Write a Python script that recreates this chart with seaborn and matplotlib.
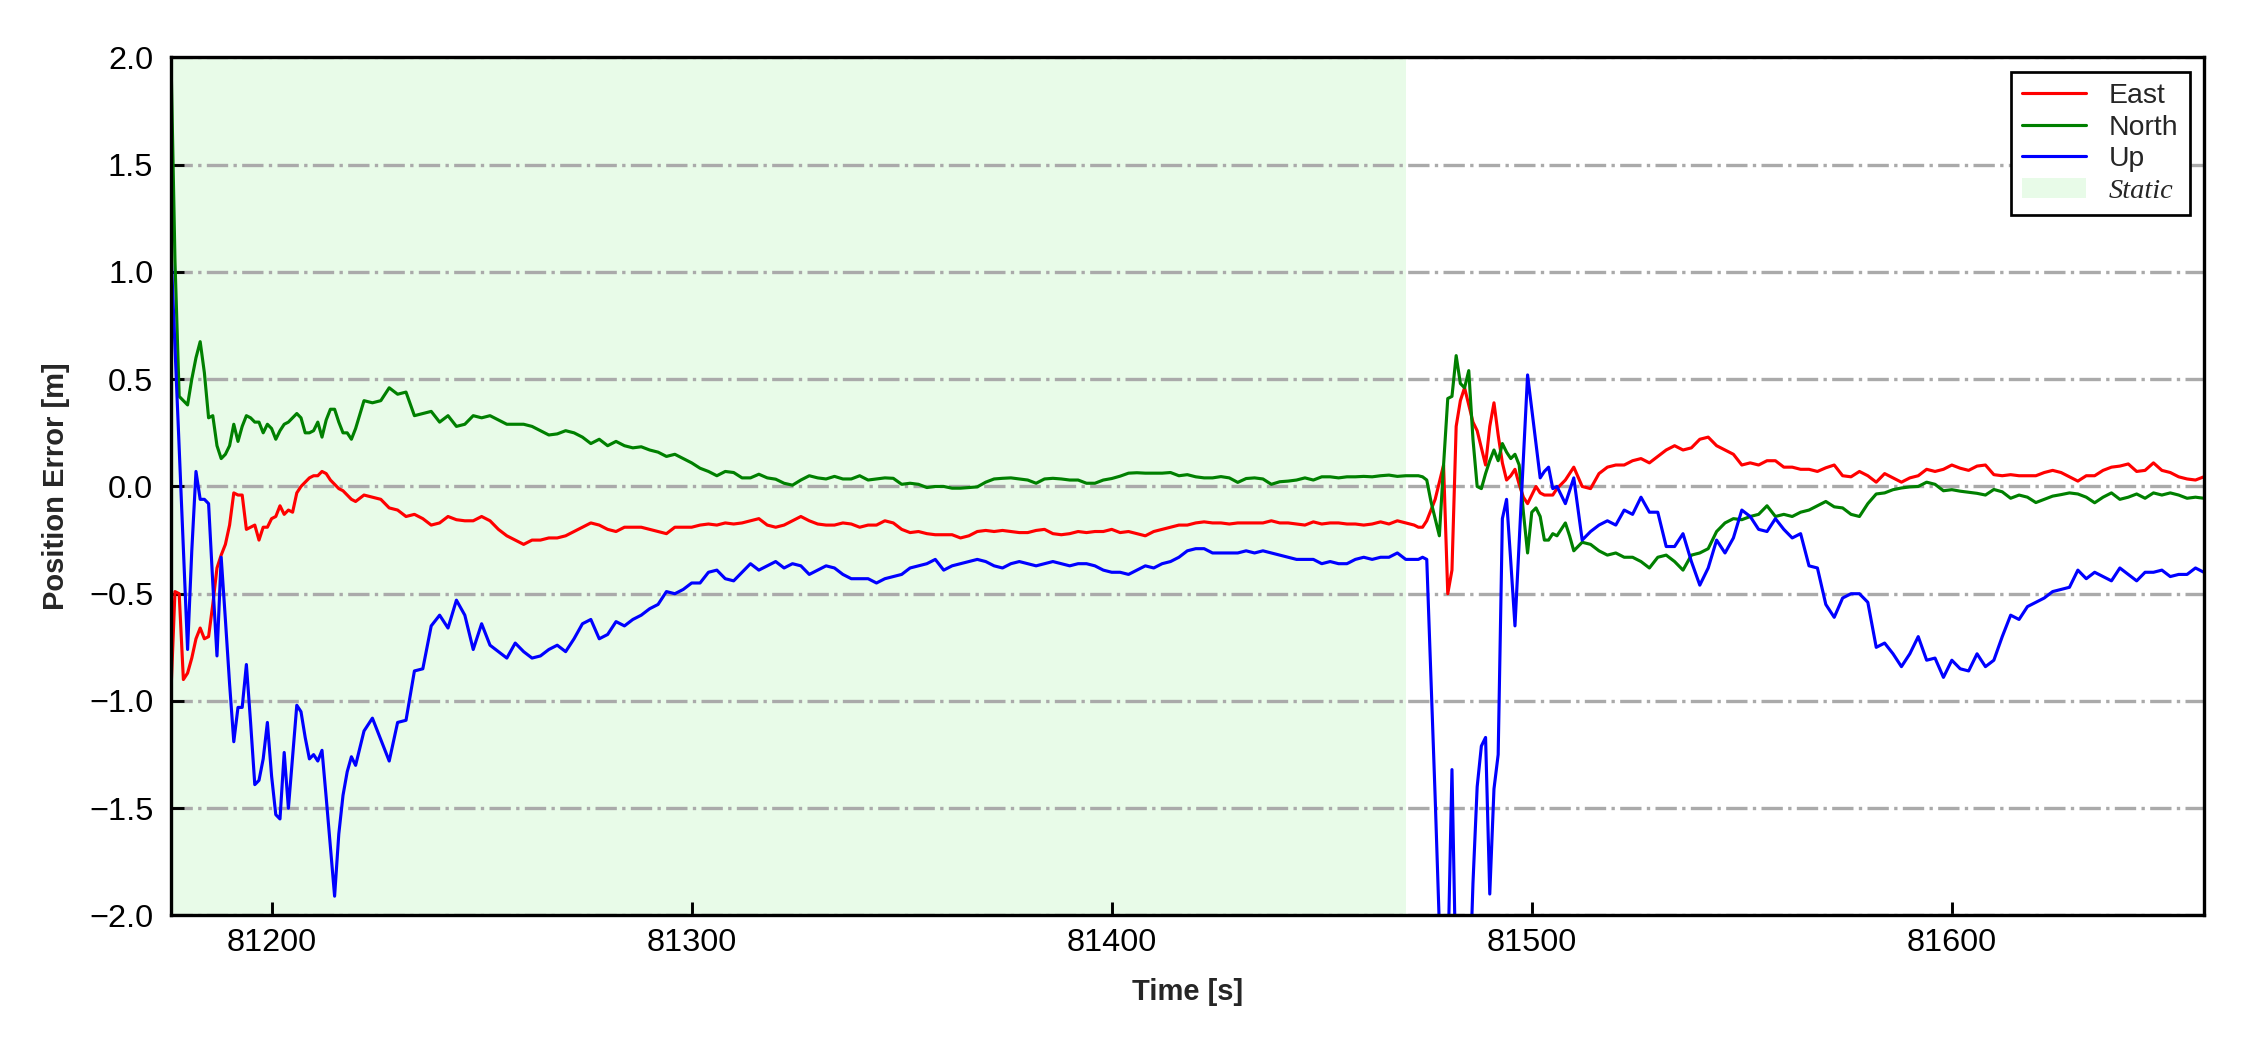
import numpy as np
import pandas as pd
import matplotlib
matplotlib.use("Agg")
import matplotlib.pyplot as plt
from matplotlib.lines import Line2D
import seaborn as sns

# sample times: 1 s steps around the fast transients, 2 s elsewhere
time_s = np.concatenate([
    np.arange(81176, 81221, 1),
    np.arange(81222, 81473, 2),
    np.arange(81473, 81511, 1),
    np.arange(81512, 81661, 2),
])

# East error [m]
east = [
    # 81176-81220 (1 s)
    -0.98, -0.49, -0.50, -0.90, -0.87, -0.80, -0.71, -0.66, -0.71, -0.70,
    -0.55, -0.38, -0.32, -0.27, -0.18, -0.03, -0.04, -0.04, -0.20, -0.19,
    -0.18, -0.25, -0.19, -0.19, -0.15, -0.14, -0.09, -0.13, -0.11, -0.12,
    -0.03, 0.00, 0.02, 0.04, 0.05, 0.05, 0.07, 0.06, 0.03, 0.01,
    -0.01, -0.02, -0.04, -0.06, -0.07,
    # 81222-81472 (2 s)
    -0.04, -0.05, -0.06, -0.10, -0.11, -0.14, -0.13, -0.15, -0.18, -0.17,
    -0.14, -0.155, -0.16, -0.16, -0.14, -0.16, -0.20, -0.23, -0.25, -0.27,
    -0.25, -0.25, -0.24, -0.24, -0.23, -0.21, -0.19, -0.17, -0.18, -0.20,
    -0.21, -0.19, -0.19, -0.19, -0.20, -0.21, -0.22, -0.19, -0.19, -0.19,
    -0.18, -0.175, -0.18, -0.17, -0.175, -0.17, -0.16, -0.15, -0.18, -0.19,
    -0.18, -0.16, -0.14, -0.16, -0.175, -0.18, -0.18, -0.17, -0.175, -0.19,
    -0.18, -0.18, -0.16, -0.17, -0.20, -0.215, -0.21, -0.22, -0.225, -0.225,
    -0.225, -0.24, -0.23, -0.21, -0.205, -0.21, -0.205, -0.21, -0.215, -0.215,
    -0.205, -0.20, -0.22, -0.225, -0.22, -0.21, -0.215, -0.21, -0.21, -0.20,
    -0.215, -0.21, -0.22, -0.23, -0.21, -0.20, -0.19, -0.18, -0.18, -0.17,
    -0.165, -0.17, -0.17, -0.175, -0.17, -0.17, -0.17, -0.17, -0.16, -0.17,
    -0.17, -0.175, -0.18, -0.165, -0.175, -0.17, -0.17, -0.175, -0.175, -0.18,
    -0.175, -0.165, -0.175, -0.16, -0.17, -0.18,
    # 81473-81510 (1 s)
    -0.19, -0.19, -0.16, -0.11, -0.06, 0.02, 0.10, -0.50, -0.39, 0.28,
    0.40, 0.46, 0.38, 0.30, 0.26, 0.18, 0.10, 0.28, 0.39, 0.24,
    0.11, 0.03, 0.05, 0.08, 0.01, -0.05, -0.08, -0.04, 0.00, -0.03,
    -0.04, -0.04, -0.04, -0.01, 0.01, 0.03, 0.06, 0.09,
    # 81512-81660 (2 s)
    0.00, -0.01, 0.06, 0.09, 0.10, 0.10, 0.12, 0.13, 0.11, 0.14,
    0.17, 0.19, 0.17, 0.18, 0.22, 0.23, 0.19, 0.17, 0.15, 0.10,
    0.11, 0.10, 0.12, 0.12, 0.09, 0.09, 0.08, 0.08, 0.07, 0.087,
    0.10, 0.05, 0.045, 0.07, 0.05, 0.02, 0.06, 0.04, 0.02, 0.04,
    0.05, 0.08, 0.07, 0.08, 0.10, 0.085, 0.075, 0.095, 0.10, 0.055,
    0.05, 0.055, 0.05, 0.05, 0.05, 0.065, 0.075, 0.065, 0.045, 0.025,
    0.05, 0.05, 0.075, 0.09, 0.095, 0.105, 0.07, 0.075, 0.11, 0.075,
    0.065, 0.045, 0.035, 0.03, 0.045,
]

# North error [m]
north = [
    2.05, 1.05, 0.42, 0.40, 0.38, 0.50, 0.60, 0.675, 0.53, 0.32,
    0.33, 0.19, 0.13, 0.15, 0.19, 0.29, 0.21, 0.28, 0.33, 0.32,
    0.30, 0.30, 0.25, 0.29, 0.27, 0.22, 0.26, 0.29, 0.30, 0.32,
    0.34, 0.32, 0.25, 0.25, 0.26, 0.30, 0.23, 0.31, 0.36, 0.36,
    0.30, 0.25, 0.25, 0.22, 0.27,
    0.40, 0.39, 0.40, 0.46, 0.43, 0.44, 0.33, 0.34, 0.35, 0.30,
    0.33, 0.28, 0.29, 0.33, 0.32, 0.33, 0.31, 0.29, 0.29, 0.29,
    0.28, 0.26, 0.24, 0.245, 0.26, 0.25, 0.23, 0.20, 0.22, 0.19,
    0.21, 0.19, 0.18, 0.185, 0.17, 0.16, 0.14, 0.15, 0.13, 0.11,
    0.085, 0.07, 0.05, 0.07, 0.065, 0.04, 0.04, 0.057, 0.04, 0.034,
    0.015, 0.006, 0.03, 0.05, 0.04, 0.035, 0.047, 0.035, 0.035, 0.05,
    0.03, 0.035, 0.04, 0.038, 0.01, 0.015, 0.01, -0.005, 0.0, 0.0,
    -0.008, -0.008, -0.005, -0.002, 0.02, 0.035, 0.038, 0.04, 0.035, 0.03,
    0.015, 0.035, 0.038, 0.035, 0.03, 0.03, 0.015, 0.015, 0.03, 0.037,
    0.048, 0.062, 0.064, 0.062, 0.062, 0.062, 0.065, 0.05, 0.055, 0.045,
    0.04, 0.04, 0.046, 0.04, 0.019, 0.037, 0.04, 0.035, 0.01, 0.022,
    0.025, 0.03, 0.04, 0.03, 0.045, 0.045, 0.04, 0.045, 0.045, 0.047,
    0.045, 0.05, 0.053, 0.047, 0.05, 0.05,
    0.05, 0.045, 0.03, -0.07, -0.15, -0.23, 0.10, 0.41, 0.42, 0.61,
    0.48, 0.46, 0.54, 0.22, 0.00, -0.01, 0.06, 0.12, 0.17, 0.12,
    0.20, 0.16, 0.13, 0.15, 0.10, -0.12, -0.31, -0.12, -0.10, -0.14,
    -0.25, -0.25, -0.22, -0.23, -0.20, -0.17, -0.23, -0.30,
    -0.26, -0.27, -0.30, -0.32, -0.31, -0.33, -0.33, -0.35, -0.38, -0.33,
    -0.32, -0.35, -0.39, -0.32, -0.31, -0.29, -0.21, -0.17, -0.15, -0.155,
    -0.14, -0.13, -0.09, -0.14, -0.13, -0.14, -0.12, -0.11, -0.09, -0.07,
    -0.095, -0.10, -0.13, -0.14, -0.08, -0.035, -0.03, -0.015, -0.007, -0.002,
    0.00, 0.02, 0.01, -0.02, -0.015, -0.022, -0.027, -0.032, -0.04, -0.014,
    -0.025, -0.055, -0.04, -0.05, -0.075, -0.06, -0.045, -0.038, -0.03, -0.035,
    -0.05, -0.076, -0.05, -0.03, -0.06, -0.05, -0.035, -0.055, -0.03, -0.04,
    -0.03, -0.04, -0.055, -0.05, -0.055,
]

# Up error [m]
up = [
    1.12, 0.65, 0.18, -0.29, -0.76, -0.30, 0.07, -0.06, -0.06, -0.08,
    -0.45, -0.79, -0.33, -0.62, -0.92, -1.19, -1.03, -1.03, -0.83, -1.10,
    -1.39, -1.37, -1.27, -1.10, -1.35, -1.53, -1.55, -1.24, -1.50, -1.26,
    -1.02, -1.05, -1.17, -1.27, -1.25, -1.28, -1.23, -1.45, -1.68, -1.91,
    -1.62, -1.44, -1.33, -1.26, -1.30,
    -1.14, -1.08, -1.18, -1.28, -1.10, -1.09, -0.86, -0.85, -0.65, -0.60,
    -0.66, -0.53, -0.60, -0.76, -0.64, -0.74, -0.77, -0.80, -0.73, -0.77,
    -0.80, -0.79, -0.76, -0.74, -0.77, -0.71, -0.64, -0.62, -0.71, -0.69,
    -0.63, -0.65, -0.62, -0.60, -0.57, -0.55, -0.49, -0.50, -0.48, -0.45,
    -0.45, -0.40, -0.39, -0.43, -0.44, -0.40, -0.36, -0.39, -0.37, -0.35,
    -0.38, -0.36, -0.37, -0.41, -0.39, -0.37, -0.38, -0.41, -0.43, -0.43,
    -0.43, -0.45, -0.43, -0.42, -0.41, -0.38, -0.37, -0.36, -0.34, -0.39,
    -0.37, -0.36, -0.35, -0.34, -0.35, -0.37, -0.38, -0.36, -0.35, -0.36,
    -0.37, -0.36, -0.35, -0.36, -0.37, -0.36, -0.36, -0.37, -0.39, -0.40,
    -0.40, -0.41, -0.39, -0.37, -0.38, -0.36, -0.35, -0.33, -0.30, -0.29,
    -0.29, -0.31, -0.31, -0.31, -0.31, -0.30, -0.31, -0.30, -0.31, -0.32,
    -0.33, -0.34, -0.34, -0.34, -0.36, -0.35, -0.36, -0.36, -0.34, -0.33,
    -0.34, -0.33, -0.33, -0.31, -0.34, -0.34,
    -0.34, -0.33, -0.34, -0.90, -1.45, -2.05, -2.45, -2.25, -1.32, -2.35,
    -2.60, -2.60, -2.45, -1.85, -1.40, -1.21, -1.17, -1.90, -1.41, -1.25,
    -0.15, -0.06, -0.35, -0.65, -0.26, 0.13, 0.52, 0.36, 0.20, 0.04,
    0.07, 0.09, -0.01, 0.00, -0.04, -0.08, -0.02, 0.04,
    -0.25, -0.21, -0.18, -0.16, -0.18, -0.11, -0.13, -0.05, -0.12, -0.12,
    -0.28, -0.28, -0.22, -0.35, -0.46, -0.38, -0.25, -0.31, -0.24, -0.11,
    -0.14, -0.20, -0.21, -0.15, -0.20, -0.24, -0.22, -0.37, -0.38, -0.55,
    -0.61, -0.52, -0.50, -0.50, -0.54, -0.75, -0.73, -0.78, -0.84, -0.78,
    -0.70, -0.81, -0.80, -0.89, -0.81, -0.85, -0.86, -0.78, -0.84, -0.81,
    -0.70, -0.60, -0.62, -0.56, -0.54, -0.52, -0.49, -0.48, -0.47, -0.39,
    -0.43, -0.40, -0.42, -0.44, -0.38, -0.41, -0.44, -0.40, -0.40, -0.39,
    -0.42, -0.41, -0.41, -0.38, -0.40,
]

static_start, static_end = 81176, 81470
components = ["East", "North", "Up"]
colors = ["r", "g", "b"]

df = pd.DataFrame({
    "Time": np.tile(time_s, 3),
    "Error": east + north + up,
    "Component": np.repeat(components, len(time_s)),
})

sns.set_style("ticks")
plt.rcParams["font.family"] = ["Liberation Sans", "DejaVu Sans"]

fig = plt.figure(figsize=(7.5, 3.5), dpi=300)
ax = fig.add_axes([0.0759, 0.1281, 0.9036, 0.8172])

span = ax.axvspan(static_start, static_end, color="lightgreen", alpha=0.2,
                  lw=0, zorder=0)
sns.lineplot(data=df, x="Time", y="Error", hue="Component",
             hue_order=components, palette=dict(zip(components, colors)),
             estimator=None, linewidth=0.75, legend=False, ax=ax)

ax.set_xlim(81176, 81660)
ax.set_ylim(-2, 2)
ax.set_xticks([81200, 81300, 81400, 81500, 81600])
ax.set_yticks(np.arange(-2, 2.01, 0.5))
ax.ticklabel_format(axis="x", useOffset=False)

ax.yaxis.grid(True, linestyle="-.", color="#aaaaaa", linewidth=0.8)
ax.xaxis.grid(False)

ax.tick_params(direction="in", length=3.2, width=0.7, labelsize=7.8,
               colors="black", top=False, right=False)
ax.tick_params(axis="x", pad=3)
ax.tick_params(axis="y", pad=4.2)
for s in ax.spines.values():
    s.set_color("black")
    s.set_linewidth(0.8)

ax.set_xlabel("Time [s]", fontsize=7, fontweight="bold", labelpad=4.7)
ax.set_ylabel("Position Error [m]", fontsize=7, fontweight="bold", labelpad=4.5)

handles = [Line2D([], [], color=c, lw=0.75) for c in colors] + [span]
leg = ax.legend(handles, components + ["Static"], loc="upper right",
                fontsize=6.8, frameon=True, fancybox=False, edgecolor="black",
                framealpha=1, labelspacing=0.2, borderpad=0.4,
                handlelength=2.25, handletextpad=0.8)
leg.get_frame().set_linewidth(0.65)
static_txt = leg.get_texts()[3]
static_txt.set_fontfamily(["Liberation Serif", "DejaVu Serif"])
static_txt.set_fontstyle("italic")

plt.savefig("out.png", dpi=300)
